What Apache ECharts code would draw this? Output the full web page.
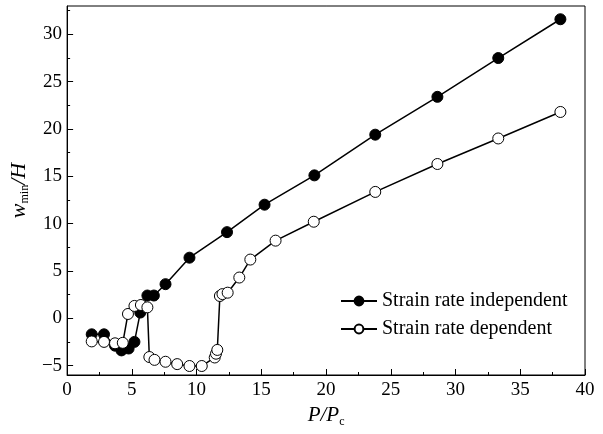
<!DOCTYPE html>
<html>
<head>
<meta charset="utf-8">
<script src="https://cdn.jsdelivr.net/npm/echarts@6/dist/echarts.min.js"></script>
<style>html,body{margin:0;padding:0;background:#fff}#c{width:603px;height:434px}</style>
</head>
<body>
<div id="c"></div>
<script>
// Data
var seriesNames = ['Strain rate independent', 'Strain rate dependent'];
var indepX = [1.9, 2.85, 3.7, 4.2, 4.75, 5.2, 5.65, 6.2, 6.7, 7.6, 9.45, 12.35, 15.25, 19.1, 23.8, 28.6, 33.3, 38.1];
var indepY = [-1.7, -1.7, -2.9, -3.4, -3.2, -2.5, 0.6, 2.4, 2.4, 3.6, 6.4, 9.1, 12.0, 15.1, 19.4, 23.4, 27.5, 31.6];
var depX = [1.9, 2.85, 3.7, 4.3, 4.7, 5.2, 5.7, 6.2, 6.35, 6.75, 7.6, 8.5, 9.45, 10.4, 11.4, 11.5, 11.6, 11.8, 12.0, 12.4, 13.3, 14.15, 16.1, 19.05, 23.8, 28.6, 33.3, 38.1];
var depY = [-2.45, -2.5, -2.65, -2.6, 0.45, 1.3, 1.4, 1.15, -4.1, -4.4, -4.6, -4.85, -5.05, -5.05, -4.15, -3.75, -3.35, 2.35, 2.55, 2.7, 4.3, 6.2, 8.2, 10.2, 13.35, 16.3, 19.0, 21.8];
var yTicks = [-5, 0, 5, 10, 15, 20, 25, 30];
var yMinorTicks = [-2.5, 2.5, 7.5, 12.5, 17.5, 22.5, 27.5, 32.5];

function zip(a, b) { return a.map(function (v, i) { return [v, b[i]]; }); }

var FONT = 'Liberation Serif';
var chart = echarts.init(document.getElementById('c'), null, {renderer: 'canvas'});
chart.setOption({
  animation: false,
  backgroundColor: '#fff',
  grid: {left: 62, right: 18, top: 6, bottom: 59, show: true, borderColor: '#000', borderWidth: 1, containLabel: false},
  legend: {
    orient: 'vertical', left: 335, top: 286, itemGap: 8, itemWidth: 36, itemHeight: 11,
    textStyle: {fontFamily: FONT, fontSize: 20, color: '#000'},
    data: seriesNames
  },
  xAxis: {
    type: 'value', min: 0, max: 40, interval: 5,
    axisLine: {onZero: false, lineStyle: {color: '#000', width: 1}},
    axisTick: {inside: true, length: 6, lineStyle: {color: '#000'}},
    minorTick: {show: true, splitNumber: 2, length: 3, lineStyle: {color: '#000'}},
    splitLine: {show: false},
    axisLabel: {fontFamily: FONT, fontSize: 19, color: '#000', margin: 6},
    name: '{i|P/P}{s|c}', nameLocation: 'middle', nameGap: 23,
    nameTextStyle: {
      rich: {
        i: {fontFamily: FONT, fontSize: 21, fontStyle: 'italic', color: '#000', lineHeight: 24},
        s: {fontFamily: FONT, fontSize: 12, color: '#000', verticalAlign: 'bottom', lineHeight: 12}
      }
    }
  },
  yAxis: [{
    type: 'value', min: -6, max: 33,
    axisLine: {onZero: false, lineStyle: {color: '#000', width: 1}},
    axisTick: {inside: true, length: 6, customValues: yTicks, lineStyle: {color: '#000'}},
    splitLine: {show: false},
    axisLabel: {fontFamily: FONT, fontSize: 19, color: '#000', margin: 5, customValues: yTicks,
      formatter: function (v) { return String(v).replace('-', '\u2212'); }},
    name: '{i|w}{s|min}{i|/H}', nameLocation: 'middle', nameGap: 30, nameRotate: 90,
    nameTextStyle: {
      rich: {
        i: {fontFamily: FONT, fontSize: 22, fontStyle: 'italic', color: '#000', lineHeight: 24},
        s: {fontFamily: FONT, fontSize: 12, color: '#000', verticalAlign: 'bottom', lineHeight: 12}
      }
    }
  }, {
    type: 'value', min: -6, max: 33, position: 'left',
    axisLine: {show: false, onZero: false},
    axisTick: {show: true, inside: true, length: 3, customValues: yMinorTicks, lineStyle: {color: '#000'}},
    axisLabel: {show: false},
    splitLine: {show: false}
  }],
  series: [{
    name: seriesNames[0], type: 'line', data: zip(indepX, indepY),
    symbol: 'circle', symbolSize: 11,
    lineStyle: {color: '#000', width: 1.5},
    itemStyle: {color: '#000', borderColor: '#000', borderWidth: 1},
    emphasis: {disabled: true}
  }, {
    name: seriesNames[1], type: 'line', data: zip(depX, depY),
    symbol: 'circle', symbolSize: 11,
    lineStyle: {color: '#000', width: 1.5},
    itemStyle: {color: '#fff', borderColor: '#000', borderWidth: 1},
    emphasis: {disabled: true}
  }]
});
</script>
</body>
</html>
